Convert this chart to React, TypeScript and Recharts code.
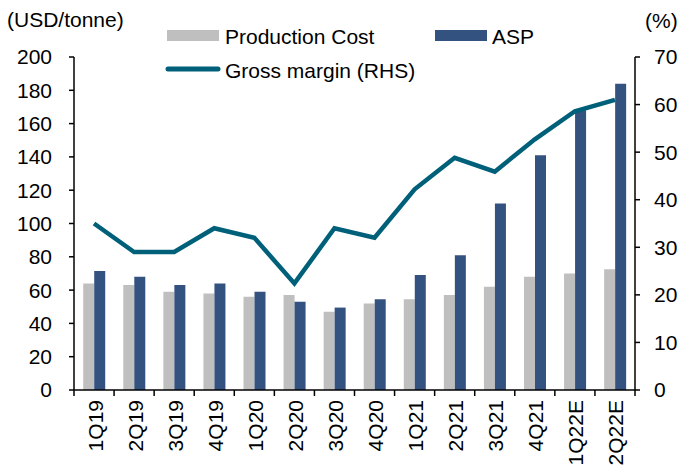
import React from "react";
import { ComposedChart, Bar, Line, XAxis, YAxis } from "recharts";

const quarters = ["1Q19","2Q19","3Q19","4Q19","1Q20","2Q20","3Q20","4Q20","1Q21","2Q21","3Q21","4Q21","1Q22E","2Q22E"];
const productionCost = [64, 63, 59, 58, 56, 57, 47, 52, 54.5, 57, 62, 68, 70, 72.5];
const asp = [71.5, 68, 63, 64, 59, 53, 49.5, 54.5, 69, 81, 112, 141, 168, 184];
const grossMargin = [35, 29, 29, 34, 32, 22.4, 34, 32, 42.2, 48.8, 45.9, 52.7, 58.6, 61];
const leftTicks = [0, 20, 40, 60, 80, 100, 120, 140, 160, 180, 200];
const rightTicks = [0, 10, 20, 30, 40, 50, 60, 70];

const data = quarters.map((q, i) => ({ q, pc: productionCost[i], asp: asp[i], gm: grossMargin[i] }));

const FONT = "'Liberation Sans', Arial, sans-serif";
const FS = 21;
const W = 682, H = 468;
const LEFT_W = 74, RIGHT_W = 47, TOP = 57, BOTTOM_H = 78;
const BAND = (W - LEFT_W - RIGHT_W) / quarters.length;

const XTick = (props: any) => {
  const { x, y, payload, index } = props;
  const last = index === quarters.length - 1;
  return (
    <g>
      <line x1={x - BAND / 2} x2={x - BAND / 2} y1={y} y2={y + 6} stroke="#000" strokeWidth={1.5} />
      {last && <line x1={x + BAND / 2} x2={x + BAND / 2} y1={y} y2={y + 6} stroke="#000" strokeWidth={1.5} />}
      <text
        x={x + 1}
        y={y + 10}
        transform={`rotate(-90, ${x + 1}, ${y + 10})`}
        textAnchor="end"
        dominantBaseline="central"
        fontFamily={FONT}
        fontSize={FS}
        fill="#000"
      >
        {payload.value}
      </text>
    </g>
  );
};

export default function App() {
  return (
    <div style={{ position: "absolute", left: 0, top: 0, width: W, height: H, background: "#fff" }}>
      <ComposedChart
        width={W}
        height={H}
        data={data}
        margin={{ top: TOP, right: 0, bottom: 0, left: 0 }}
        barCategoryGap="23%"
        barGap={0}
      >
        <XAxis
          dataKey="q"
          xAxisId="x"
          height={BOTTOM_H}
          tickLine={false}
          tickSize={0}
          tickMargin={0}
          interval={0}
          axisLine={{ stroke: "#000", strokeWidth: 1.5 }}
          tick={<XTick />}
        />
        <YAxis
          yAxisId="left"
          orientation="left"
          width={LEFT_W}
          domain={[0, 200]}
          ticks={leftTicks}
          interval={0}
          tickSize={5}
          tickMargin={17}
          axisLine={{ stroke: "#000", strokeWidth: 1.5 }}
          tickLine={{ stroke: "#000", strokeWidth: 1.5 }}
          tick={{ fill: "#000", fontFamily: FONT, fontSize: FS }}
        />
        <YAxis
          yAxisId="right"
          orientation="right"
          width={RIGHT_W}
          domain={[0, 70]}
          ticks={rightTicks}
          interval={0}
          tickSize={5}
          tickMargin={14}
          axisLine={{ stroke: "#000", strokeWidth: 1.5 }}
          tickLine={{ stroke: "#000", strokeWidth: 1.5 }}
          tick={{ fill: "#000", fontFamily: FONT, fontSize: FS, textAnchor: "start" }}
        />
        <Bar xAxisId="x" yAxisId="left" dataKey="pc" fill="#bfbfbf" isAnimationActive={false} />
        <Bar xAxisId="x" yAxisId="left" dataKey="asp" fill="#34527f" isAnimationActive={false} />
        <Line
          xAxisId="x"
          yAxisId="right"
          dataKey="gm"
          stroke="#00607a"
          strokeWidth={4.5}
          dot={false}
          activeDot={false}
          type="linear"
          isAnimationActive={false}
        />
      </ComposedChart>
      <svg width={W} height={90} style={{ position: "absolute", left: 0, top: 0, pointerEvents: "none" }}>
        <text x={7} y={19} dominantBaseline="central" fontFamily={FONT} fontSize={FS} fill="#000">(USD/tonne)</text>
        <text x={645} y={20} dominantBaseline="central" fontFamily={FONT} fontSize={FS} fill="#000">(%)</text>
        <rect x={167} y={30} width={52} height={11} fill="#bfbfbf" />
        <text x={225} y={36} dominantBaseline="central" fontFamily={FONT} fontSize={FS} fill="#000">Production Cost</text>
        <rect x={435} y={30} width={52} height={11} fill="#34527f" />
        <text x={492} y={36} dominantBaseline="central" fontFamily={FONT} fontSize={FS} fill="#000">ASP</text>
        <line x1={168} x2={218} y1={69} y2={69} stroke="#00607a" strokeWidth={5} strokeLinecap="round" />
        <text x={225} y={70} dominantBaseline="central" fontFamily={FONT} fontSize={FS} fill="#000">Gross margin (RHS)</text>
      </svg>
    </div>
  );
}
